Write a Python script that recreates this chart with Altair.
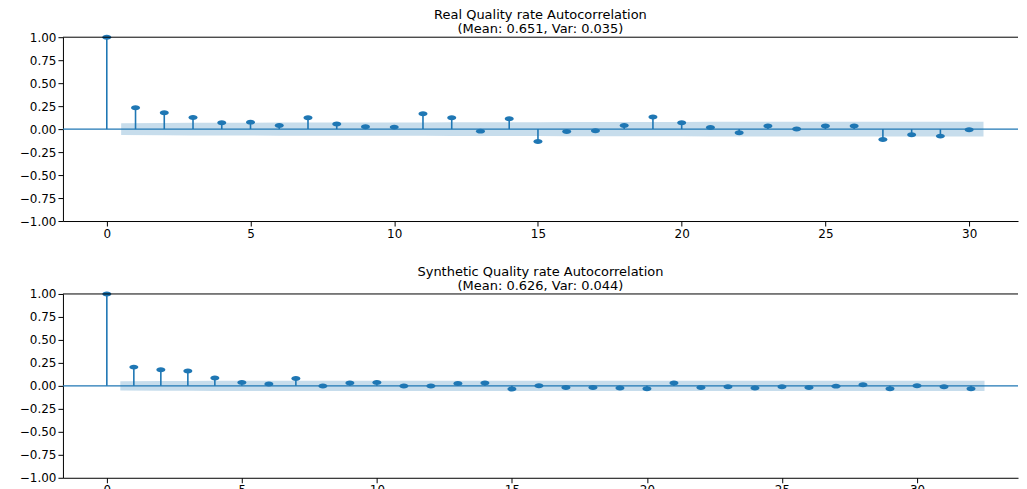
import altair as alt
import pandas as pd

BLUE = "#1f77b4"
FONT = "DejaVu Sans"
ELLIPSE = "M -1 0 A 1 0.55 0 1 0 1 0 A 1 0.55 0 1 0 -1 0 Z"

# ---- data ----
real_lags = list(range(31))
real_acf = [1.0, 0.233, 0.178, 0.127, 0.069, 0.076, 0.040, 0.124, 0.055, 0.025,
            0.022, 0.167, 0.124, -0.022, 0.113, -0.135, -0.025, -0.018, 0.040, 0.131,
            0.069, 0.018, -0.040, 0.033, 0.002, 0.033, 0.033, -0.113, -0.062, -0.076,
            -0.007]
real_conf = [0.064, 0.067, 0.069, 0.070, 0.070, 0.071, 0.071, 0.072, 0.072, 0.072,
             0.072, 0.074, 0.075, 0.075, 0.075, 0.077, 0.077, 0.077, 0.077, 0.078,
             0.079, 0.079, 0.079, 0.079, 0.079, 0.079, 0.079, 0.080, 0.081, 0.081]

synth_lags = list(range(33))
synth_acf = [1.0, 0.204, 0.175, 0.161, 0.085, 0.038, 0.020, 0.081, -0.002, 0.031,
             0.038, -0.002, -0.002, 0.027, 0.031, -0.034, 0.002, -0.018, -0.018, -0.024,
             -0.031, 0.032, -0.018, -0.010, -0.024, -0.010, -0.018, -0.003, 0.013, -0.031,
             0.002, -0.010, -0.031]
synth_conf = [0.050, 0.052, 0.054, 0.055, 0.056, 0.056, 0.056, 0.056, 0.056, 0.056,
              0.056, 0.056, 0.056, 0.056, 0.056, 0.056, 0.056, 0.056, 0.056, 0.056,
              0.056, 0.056, 0.057, 0.057, 0.057, 0.057, 0.057, 0.057, 0.057, 0.057,
              0.057, 0.057]

real_title = ["Real Quality rate Autocorrelation", "(Mean: 0.651, Var: 0.035)"]
synth_title = ["Synthetic Quality rate Autocorrelation", "(Mean: 0.626, Var: 0.044)"]
x_ticks = [0, 5, 10, 15, 20, 25, 30]
y_ticks = [-1.0, -0.75, -0.5, -0.25, 0.0, 0.25, 0.5, 0.75, 1.0]
real_xdomain = [-1.525, 31.7]
synth_xdomain = [-1.625, 33.74]


def panel(lags, acf, conf, title, x_domain):
    pts = pd.DataFrame({"lag": lags, "acf": acf})
    band_x = [float(v) for v in lags[1:]]
    band_x[0] -= 0.5
    band_x[-1] += 0.5
    band = pd.DataFrame({"x": band_x, "lo": [-c for c in conf], "hi": conf})
    zero_df = pd.DataFrame({"v": [0.0]})
    top_df = pd.DataFrame({"v": [1.0]})

    xs = alt.Scale(domain=x_domain, nice=False, zero=False)
    ys = alt.Scale(domain=[-1, 1], nice=False)
    xaxis = alt.Axis(values=x_ticks, format="d", title="")
    yaxis = alt.Axis(values=y_ticks, format=".2f", title="")

    band_layer = alt.Chart(band).mark_area(color=BLUE, opacity=0.25).encode(
        x=alt.X("x:Q", scale=xs, axis=xaxis),
        y=alt.Y("lo:Q", scale=ys, axis=yaxis),
        y2="hi:Q",
    )
    zero_layer = alt.Chart(zero_df).mark_rule(color=BLUE, strokeWidth=1.2).encode(
        y=alt.Y("v:Q", scale=ys, axis=yaxis)
    )
    stems = alt.Chart(pts).mark_rule(color=BLUE, strokeWidth=1.6).encode(
        x=alt.X("lag:Q", scale=xs, axis=xaxis),
        y=alt.Y("acf:Q", scale=ys, axis=yaxis),
        y2=alt.datum(0),
    )
    dots = alt.Chart(pts).mark_point(
        shape=ELLIPSE, filled=True, size=81, color=BLUE, opacity=1
    ).encode(
        x=alt.X("lag:Q", scale=xs, axis=xaxis),
        y=alt.Y("acf:Q", scale=ys, axis=yaxis),
    )
    top_spine = alt.Chart(top_df).mark_rule(color="black", strokeWidth=1).encode(
        y=alt.Y("v:Q", scale=ys, axis=yaxis)
    )
    return alt.layer(band_layer, zero_layer, stems, dots, top_spine).properties(
        width=956,
        height=184,
        title=alt.TitleParams(
            text=title, fontSize=13, font=FONT, fontWeight="normal",
            anchor="middle", frame="group", offset=-5, lineHeight=14, color="black",
        ),
    )


chart = alt.vconcat(
    panel(real_lags, real_acf, real_conf, real_title, real_xdomain),
    panel(synth_lags, synth_acf, synth_conf, synth_title, synth_xdomain),
    spacing=27,
).properties(
    padding={"left": 11, "top": 1, "right": 0, "bottom": 0},
    background="white",
).configure_view(
    strokeWidth=0
).configure_axis(
    labelFont=FONT, labelFontSize=12, labelColor="black",
    tickColor="black", domainColor="black", tickSize=5, grid=False,
    labelPadding=2, domainWidth=1, tickWidth=1,
)

chart.save("out.html", embed_options={"renderer": "svg", "actions": False})
